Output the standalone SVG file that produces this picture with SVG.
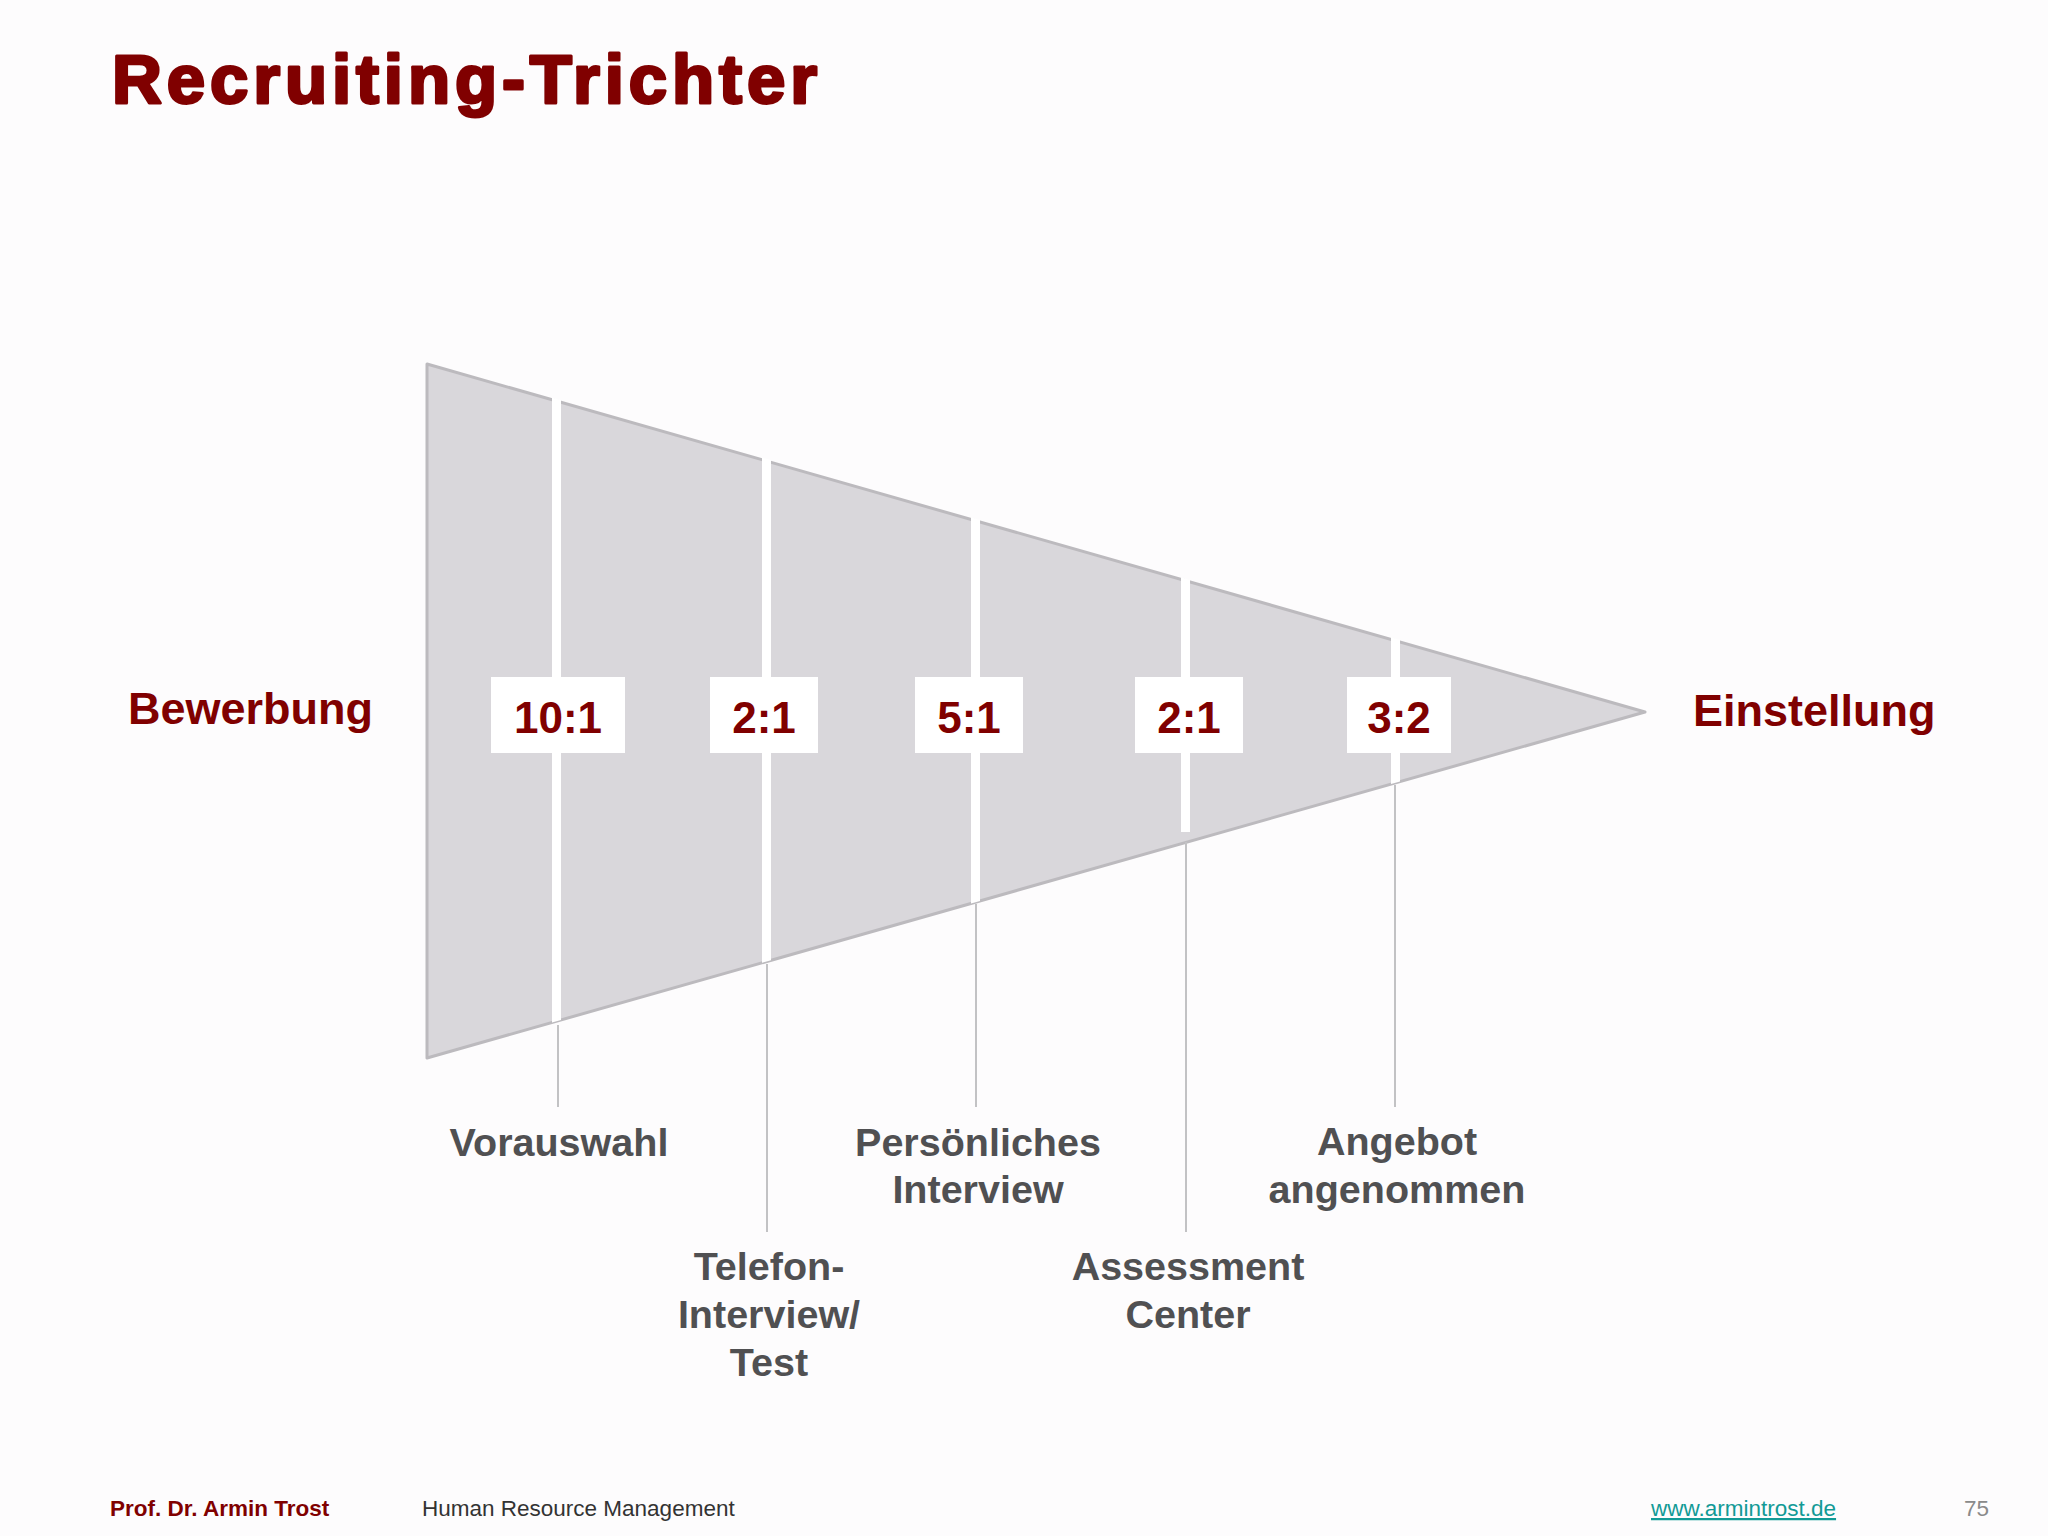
<svg xmlns="http://www.w3.org/2000/svg" width="2048" height="1536" viewBox="0 0 2048 1536">
<style>
.title{font-family:"Liberation Sans",Arial,sans-serif;font-weight:bold;font-size:69px;fill:#800000;stroke:#800000;stroke-width:3px;stroke-linejoin:round}
.side{font-family:"Liberation Sans",Arial,sans-serif;font-weight:bold;font-size:45px;fill:#800000}
.ratio{font-family:"Liberation Sans",Arial,sans-serif;font-weight:bold;font-size:44px;fill:#800000;text-anchor:middle}
.lbl{font-family:"Liberation Sans",Arial,sans-serif;font-weight:bold;font-size:39.5px;fill:#505052;text-anchor:middle}
.box{fill:#ffffff}
.strip{fill:#ffffff}
.conn{stroke:#c2c2c4;stroke-width:2;fill:none}
.foot{font-family:"Liberation Sans",Arial,sans-serif;font-size:22.5px}
</style>
<rect x="0" y="0" width="2048" height="1536" fill="#fdfcfd"/>
<text class="title" x="112" y="103" textLength="705" lengthAdjust="spacing">Recruiting-Trichter</text>

<g id="funnel">
<polygon points="427,364 1645,712 427,1058" fill="#d9d7db" stroke="#bcbabe" stroke-width="3" stroke-linejoin="round"/>
<polygon class="strip" points="552,397.5 561,400 561,1019.9 552,1022.5"/>
<polygon class="strip" points="762,457.5 771,460 771,960.3 762,962.8"/>
<polygon class="strip" points="971,517.2 980,519.8 980,900.9 971,903.4"/>
<polygon class="strip" points="1181,577.2 1190,579.8 1190,832 1181,832"/>
<polygon class="strip" points="1391,637.2 1400,639.8 1400,781.6 1391,784.1"/>
</g>

<g id="connectors">
<line class="conn" x1="558" y1="1025" x2="558" y2="1107"/>
<line class="conn" x1="767" y1="964" x2="767" y2="1232"/>
<line class="conn" x1="976" y1="904" x2="976" y2="1107"/>
<line class="conn" x1="1186" y1="842" x2="1186" y2="1232"/>
<line class="conn" x1="1395" y1="785" x2="1395" y2="1107"/>
</g>

<g id="bewerbung"><text class="side" x="128" y="724">Bewerbung</text></g>
<g id="einstellung"><text class="side" x="1693" y="726">Einstellung</text></g>

<g id="ratio1"><rect class="box" x="491" y="677" width="134" height="76"/><text class="ratio" x="558" y="733">10:1</text></g>
<g id="ratio2"><rect class="box" x="710" y="677" width="108" height="76"/><text class="ratio" x="764" y="733">2:1</text></g>
<g id="ratio3"><rect class="box" x="915" y="677" width="108" height="76"/><text class="ratio" x="969" y="733">5:1</text></g>
<g id="ratio4"><rect class="box" x="1135" y="677" width="108" height="76"/><text class="ratio" x="1189" y="733">2:1</text></g>
<g id="ratio5"><rect class="box" x="1347" y="677" width="104" height="76"/><text class="ratio" x="1399" y="733">3:2</text></g>

<g id="vorauswahl"><text class="lbl" x="559" y="1156">Vorauswahl</text></g>
<g id="telefon"><text class="lbl" x="769" y="1280">Telefon-</text><text class="lbl" x="769" y="1328">Interview/</text><text class="lbl" x="769" y="1376">Test</text></g>
<g id="persoenlich"><text class="lbl" x="978" y="1156">Persönliches</text><text class="lbl" x="978" y="1203">Interview</text></g>
<g id="assessment"><text class="lbl" x="1188" y="1280">Assessment</text><text class="lbl" x="1188" y="1328">Center</text></g>
<g id="angebot"><text class="lbl" x="1397" y="1155">Angebot</text><text class="lbl" x="1397" y="1203">angenommen</text></g>

<g id="footer">
<text class="foot" x="110" y="1516" font-weight="bold" fill="#800000" font-size="23px">Prof. Dr. Armin Trost</text>
<text class="foot" x="422" y="1516" fill="#333333">Human Resource Management</text>
<text class="foot" x="1651" y="1516" fill="#129a96" text-decoration="underline" font-size="23px">www.armintrost.de</text>
<text class="foot" x="1964" y="1516" fill="#8a8a8a" font-size="27px">75</text>
</g>
</svg>
